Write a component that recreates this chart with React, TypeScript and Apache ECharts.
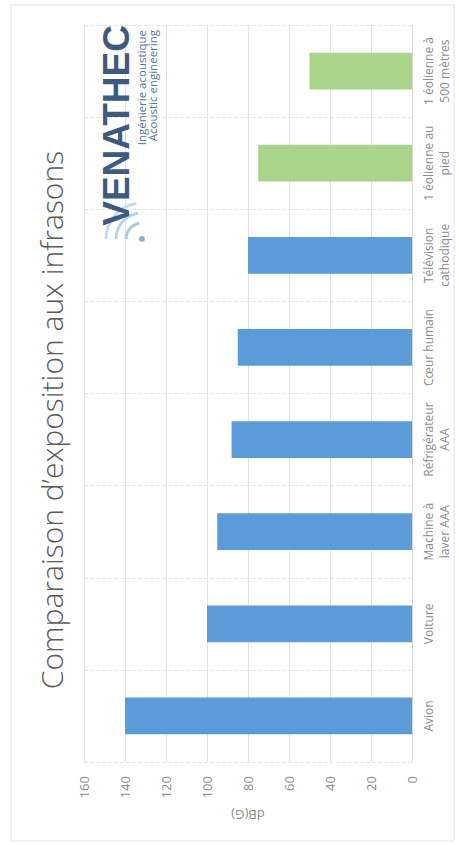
import React, { useEffect, useRef } from "react";
import * as echarts from "echarts";

const categories = [
  "Avion",
  "Voiture",
  "Machine à\nlaver AAA",
  "Réfrigérateur\nAAA",
  "Cœur humain",
  "Télévision\ncathodique",
  "1 éolienne au\npied",
  "1 éolienne à\n500 mètres",
];
const levels = [140, 100, 95, 88, 85, 80, 75, 50];
const sourceKinds = ["quotidien", "quotidien", "quotidien", "quotidien", "quotidien", "quotidien", "éolienne", "éolienne"];
const axisMin = 0;
const axisMax = 160;
const axisInterval = 20;
const titleText = "Comparaison d’exposition aux infrasons";
const axisTitle = "dB(G)";
const logoName = "VENATHEC";
const logoLines = ["Ingénierie acoustique", "Acoustic engineering"];

const kindColors: Record<string, string> = { quotidien: "#5b9bd9", "éolienne": "#a9d48a" };

export default function App() {
  const ref = useRef<HTMLDivElement>(null);
  useEffect(() => {
    if (!ref.current) return;
    const chart = echarts.init(ref.current, undefined, { renderer: "svg" });
    const gray = "#8c8c8c";
    const option: any = {
      animation: false,
      backgroundColor: "#ffffff",
      textStyle: { fontFamily: "'Open Sans', sans-serif" },
      grid: { left: 84, right: 47, top: 25, bottom: 83, containLabel: false },
      xAxis: {
        type: "value",
        inverse: true,
        position: "bottom",
        min: axisMin,
        max: axisMax,
        interval: axisInterval,
        name: axisTitle,
        nameLocation: "middle",
        nameGap: 46,
        nameRotate: 180,
        nameTextStyle: { color: gray, fontSize: 13, fontFamily: "'Open Sans', sans-serif" },
        axisLine: { show: false },
        axisTick: { show: false },
        axisLabel: { rotate: 90, margin: 14, color: gray, fontSize: 13, fontFamily: "'Open Sans', sans-serif" },
        splitLine: { show: true, lineStyle: { color: "#e2e2e2", width: 1 } },
      },
      yAxis: {
        type: "category",
        data: categories,
        position: "right",
        axisLine: { show: true, lineStyle: { color: "#d9d9d9", width: 1 } },
        axisTick: { show: false, interval: 0 },
        axisLabel: {
          interval: 0,
          rotate: 90,
          margin: 8,
          color: gray,
          fontSize: 12,
          lineHeight: 16,
          fontFamily: "'Open Sans', sans-serif",
        },
        splitLine: { show: true, interval: 0, lineStyle: { color: "#e6e6e6", type: "dashed", width: 1 } },
      },
      series: [
        {
          type: "bar",
          data: levels.map((v, i) => ({ value: v, itemStyle: { color: kindColors[sourceKinds[i]] } })),
          barCategoryGap: "60%",
        },
      ],
      graphic: [
        {
          type: "rect",
          silent: true,
          z: -10,
          shape: { x: 11, y: 5, width: 443, height: 836 },
          style: { fill: "none", stroke: "#e3e3e3", lineWidth: 1 },
        },
        {
          type: "text",
          x: 51,
          y: 420,
          rotation: Math.PI / 2,
          style: {
            text: titleText,
            align: "center",
            verticalAlign: "middle",
            textAlign: "center",
            textVerticalAlign: "middle",
            fill: "#595959",
            fontSize: 30,
            fontWeight: 300,
            fontFamily: "'Open Sans', sans-serif",
          },
        },
        {
          type: "arc",
          z: 9,
          shape: { cx: 142, cy: 239, r: 16, startAngle: Math.PI * 1.0, endAngle: Math.PI * 1.45, clockwise: true },
          style: { stroke: "#a9c9e8", lineWidth: 3, fill: "none" },
        },
        {
          type: "arc",
          z: 9,
          shape: { cx: 142, cy: 239, r: 26, startAngle: Math.PI * 1.0, endAngle: Math.PI * 1.45, clockwise: true },
          style: { stroke: "#b6d2ec", lineWidth: 3, fill: "none" },
        },
        {
          type: "arc",
          z: 9,
          shape: { cx: 142, cy: 239, r: 36, startAngle: Math.PI * 1.0, endAngle: Math.PI * 1.45, clockwise: true },
          style: { stroke: "#c4dbf0", lineWidth: 3, fill: "none" },
        },
        {
          type: "circle",
          z: 9,
          shape: { cx: 142, cy: 239, r: 3 },
          style: { fill: "#7fb0dc" },
        },
        {
          type: "text",
          x: 116,
          y: 25,
          rotation: Math.PI / 2,
          z: 10,
          style: {
            text: logoName,
            align: "right",
            verticalAlign: "middle",
            textAlign: "right",
            textVerticalAlign: "middle",
            fill: "#3d5a80",
            fontSize: 37,
            fontWeight: "bold",
            fontFamily: "'Liberation Sans', Arial, sans-serif",
          },
        },
        {
          type: "text",
          x: 141,
          y: 30,
          rotation: Math.PI / 2,
          z: 10,
          style: {
            text: logoLines[0],
            align: "right",
            verticalAlign: "middle",
            textAlign: "right",
            textVerticalAlign: "middle",
            fill: "#4a78a8",
            fontSize: 11.5,
            fontFamily: "'Open Sans', sans-serif",
          },
        },
        {
          type: "text",
          x: 152,
          y: 30,
          rotation: Math.PI / 2,
          z: 10,
          style: {
            text: logoLines[1],
            align: "right",
            verticalAlign: "middle",
            textAlign: "right",
            textVerticalAlign: "middle",
            fill: "#4a78a8",
            fontSize: 11.5,
            fontFamily: "'Open Sans', sans-serif",
          },
        },
      ],
    };
    chart.setOption(option);
    return () => chart.dispose();
  }, []);
  return (
    <div
      ref={ref}
      style={{ position: "fixed", left: 0, top: 0, width: 459, height: 845, background: "#fff" }}
    />
  );
}
